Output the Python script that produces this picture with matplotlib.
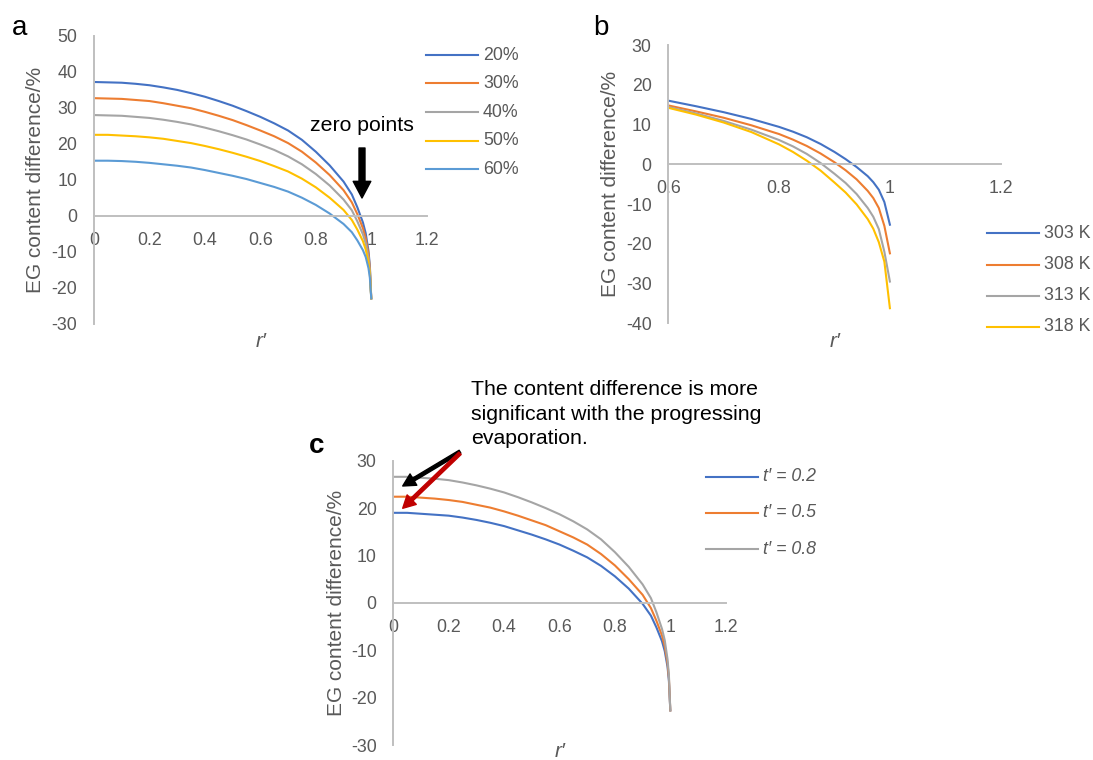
import matplotlib.pyplot as plt
from matplotlib.lines import Line2D

plt.rcParams['font.family'] = ['Liberation Sans', 'DejaVu Sans']
plt.rcParams['axes.unicode_minus'] = False  # 刻度用普通减号

# ---- data ----
# panel a: different initial contents
r_a = [0, 0.05, 0.1, 0.15, 0.2, 0.25, 0.3, 0.35, 0.4, 0.45, 0.5, 0.55, 0.6, 0.65, 0.7, 0.75,
       0.8, 0.85, 0.9, 0.93, 0.95, 0.97, 0.98, 0.99, 0.995, 1.0]
a_20 = [37.2, 37.1, 37.0, 36.7, 36.3, 35.7, 35.0, 34.1, 33.1, 31.9, 30.6, 29.1, 27.5, 25.7, 23.7, 21.1,
        17.8, 14.0, 9.5, 5.9, 2.3, -1.9, -4.9, -9.8, -14.0, -23.0]
a_30 = [32.7, 32.6, 32.5, 32.2, 31.9, 31.3, 30.6, 29.9, 28.9, 27.8, 26.6, 25.2, 23.7, 22.1, 20.2, 17.8,
        14.8, 11.3, 7.1, 3.7, 0.4, -3.5, -6.3, -10.7, -14.6, -23.0]
a_40 = [28.0, 27.9, 27.8, 27.5, 27.2, 26.7, 26.1, 25.4, 24.5, 23.5, 22.4, 21.2, 19.8, 18.3, 16.5, 14.3,
        11.6, 8.4, 4.5, 1.5, -1.6, -5.2, -7.7, -11.8, -15.4, -23.0]
a_50 = [22.5, 22.5, 22.3, 22.1, 21.8, 21.4, 20.8, 20.2, 19.4, 18.5, 17.5, 16.4, 15.2, 13.8, 12.3, 10.3,
        7.9, 5.0, 1.6, -1.2, -3.9, -7.1, -9.4, -13.0, -16.2, -23.0]
a_60 = [15.3, 15.3, 15.2, 15.0, 14.7, 14.3, 13.9, 13.4, 12.7, 11.9, 11.1, 10.2, 9.1, 8.0, 6.7, 5.0,
        3.0, 0.6, -2.3, -4.6, -6.9, -9.6, -11.5, -14.6, -17.3, -23.0]
a_labels = ['20%', '30%', '40%', '50%', '60%']

# panel b: different temperatures
r_b = [0.6, 0.65, 0.7, 0.75, 0.8, 0.825, 0.85, 0.875, 0.9, 0.92, 0.94, 0.96, 0.97, 0.98, 0.99, 1.0]
b_303 = [16.0, 14.6, 13.1, 11.4, 9.4, 8.2, 6.8, 5.1, 3.1, 1.3, -0.7, -3.0, -4.5, -6.4, -9.5, -15.2]
b_308 = [14.8, 13.3, 11.7, 9.8, 7.6, 6.2, 4.6, 2.7, 0.5, -1.5, -3.8, -6.7, -8.5, -11.0, -15.5, -22.4]
b_313 = [14.4, 12.8, 10.9, 8.7, 6.1, 4.5, 2.6, 0.3, -2.4, -4.7, -7.5, -11.0, -13.2, -16.3, -22.0, -29.5]
b_318 = [14.2, 12.5, 10.5, 8.1, 5.0, 3.1, 0.9, -1.6, -4.6, -7.1, -10.1, -13.8, -16.2, -19.6, -24.5, -36.2]
b_labels = ['303 K', '308 K', '313 K', '318 K']

# panel c: different dimensionless times
r_c = r_a
c_02 = [19.0, 19.0, 18.8, 18.6, 18.4, 18.0, 17.5, 16.9, 16.2, 15.3, 14.4, 13.4, 12.3, 11.0, 9.6, 7.8,
        5.6, 3.0, -0.2, -2.7, -5.2, -8.1, -10.2, -13.5, -16.5, -22.7]
c_05 = [22.4, 22.4, 22.2, 22.0, 21.7, 21.3, 20.7, 20.1, 19.3, 18.4, 17.4, 16.4, 15.1, 13.8, 12.3, 10.3,
        7.9, 5.0, 1.7, -1.1, -3.8, -6.9, -9.2, -12.8, -15.9, -22.7]
c_08 = [26.6, 26.6, 26.4, 26.2, 25.9, 25.4, 24.8, 24.1, 23.3, 22.3, 21.2, 20.0, 18.7, 17.2, 15.5, 13.4,
        10.7, 7.6, 3.9, 1.0, -2.0, -5.5, -7.9, -11.9, -15.3, -22.7]
c_labels = ["t\u2032 = 0.2", "t\u2032 = 0.5", "t\u2032 = 0.8"]

colors = ['#4472C4', '#ED7D31', '#A5A5A5', '#FFC000', '#5B9BD5']
axis_gray = '#BFBFBF'
text_gray = '#595959'

W, H = 1093, 760
fig = plt.figure(figsize=(W / 100, H / 100), dpi=100)


def px(x, y):
    # pixel (from top-left) -> figure fraction
    return x / W, 1 - y / H


def make_axes(left, top, right, bottom):
    return fig.add_axes([left / W, 1 - bottom / H, (right - left) / W, (bottom - top) / H])


def style(ax, xlim, ylim, xticks, xlabels, yticks):
    ax.set_xlim(xlim)
    ax.set_ylim(ylim)
    ax.patch.set_visible(False)
    ax.spines['top'].set_visible(False)
    ax.spines['right'].set_visible(False)
    ax.spines['bottom'].set_position(('data', 0))  # x轴放在 y=0
    for s in ['left', 'bottom']:
        ax.spines[s].set_color(axis_gray)
        ax.spines[s].set_linewidth(1.4)
    ax.set_xticks(xticks, xlabels)
    ax.set_yticks(yticks)
    ax.tick_params(length=0, labelsize=12.8, colors=text_gray)
    ax.tick_params(axis='x', pad=11.5)
    ax.tick_params(axis='y', pad=12)


def legend(x0, ys, labels, cols, italic=False):
    for y, lab, col in zip(ys, labels, cols):
        fig.add_artist(Line2D([x0 / W, (x0 + 52) / W], [1 - y / H, 1 - y / H], color=col, lw=1.5))
        fig.text(*px(x0 + 57, y), lab, ha='left', va='center', fontsize=12.8,
                 color=text_gray, style='italic' if italic else 'normal')


def ylabel(x, y):
    fig.text(*px(x, y), 'EG content difference/%', rotation=90, ha='center', va='center',
             fontsize=15, color=text_gray)


def xlabel(x, y):
    fig.text(*px(x, y), 'r\u2032', ha='center', va='baseline', fontsize=15, style='italic', color=text_gray)


# ---- panel a ----
ax1 = make_axes(94, 36, 426.7, 323.5)
for ys, col in zip([a_20, a_30, a_40, a_50, a_60], colors):
    ax1.plot(r_a, ys, color=col, lw=1.5)
style(ax1, (0, 1.2), (-30, 50), [0, 0.2, 0.4, 0.6, 0.8, 1.0, 1.2],
      ['0', '0.2', '0.4', '0.6', '0.8', '1', '1.2'], range(-30, 51, 10))
legend(426, [55, 83.3, 112.3, 140.7, 169], a_labels, colors)
ylabel(36, 180)
xlabel(261, 347)
fig.text(*px(12, 35), 'a', fontsize=20, ha='left', va='baseline')
fig.text(*px(362, 130.7), 'zero points', fontsize=15.3, ha='center', va='baseline')
ax1.annotate('', xy=px(362, 198), xytext=px(362, 148), xycoords='figure fraction',
             arrowprops=dict(facecolor='black', edgecolor='black', width=4.3,
                             headwidth=12.7, headlength=12, shrink=0))

# ---- panel b ----
ax2 = make_axes(668.3, 45, 1000.7, 323.3)
for ys, col in zip([b_303, b_308, b_313, b_318], colors):
    ax2.plot(r_b, ys, color=col, lw=1.5)
style(ax2, (0.6, 1.2), (-40, 30), [0.6, 0.8, 1.0, 1.2],
      ['0.6', '0.8', '1', '1.2'], range(-40, 31, 10))
legend(987, [233.3, 265, 296, 326.7], b_labels, colors)
ylabel(611, 184)
xlabel(835, 347)
fig.text(*px(593, 35), 'b', fontsize=20, ha='left', va='baseline')

# ---- panel c ----
ax3 = make_axes(393.3, 460.7, 725.7, 745)
for ys, col in zip([c_02, c_05, c_08], colors):
    ax3.plot(r_c, ys, color=col, lw=1.5)
style(ax3, (0, 1.2), (-30, 30), [0, 0.2, 0.4, 0.6, 0.8, 1.0, 1.2],
      ['0', '0.2', '0.4', '0.6', '0.8', '1', '1.2'], range(-30, 31, 10))
legend(706, [476.7, 512.7, 549.3], c_labels, colors, italic=True)
ylabel(336, 603)
xlabel(560, 757)
fig.text(*px(309, 453.3), 'c', fontsize=20, fontweight='bold', ha='left', va='baseline')
fig.text(*px(471, 414), 'The content difference is more\nsignificant with the progressing\nevaporation.',
         fontsize=15.3, ha='left', va='center', linespacing=1.39)
ax3.annotate('', xy=px(402.7, 486), xytext=px(460, 451.7), xycoords='figure fraction',
             arrowprops=dict(facecolor='black', edgecolor='black', width=2.4,
                             headwidth=9.5, headlength=9, shrink=0))
ax3.annotate('', xy=px(402.7, 508.3), xytext=px(460, 453.3), xycoords='figure fraction',
             arrowprops=dict(facecolor='#C00000', edgecolor='#C00000', width=2.4,
                             headwidth=9.5, headlength=9, shrink=0))

fig.savefig('out.png', dpi=100)
